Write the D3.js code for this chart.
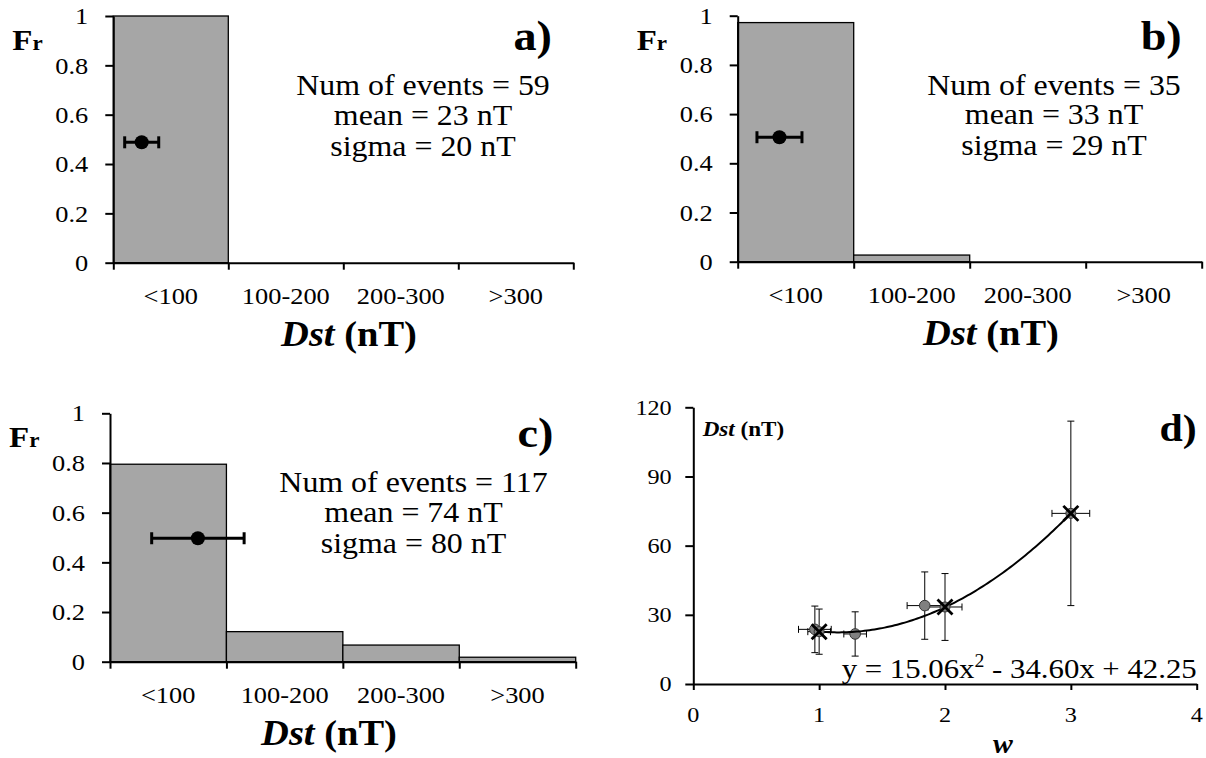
<!DOCTYPE html>
<html><head><meta charset="utf-8">
<script src="https://cdn.jsdelivr.net/npm/d3@7"></script>
<style>
body{margin:0;background:#fff}
svg{display:block}
text{font-family:"Liberation Serif","Times New Roman",serif;fill:#000}
</style>
</head><body>
<svg id="chart" width="1206" height="758"></svg>
<script>
// ---------------- DATA ----------------
const categories = ["<100", "100-200", "200-300", ">300"];
const binEdges = [0, 100, 200, 300, 400];
const frA = [1.0, 0, 0, 0];
const frB = [0.972, 0.027, 0, 0];
const frC = [0.795, 0.121, 0.067, 0.018];
const frTicks = [0, 0.2, 0.4, 0.6, 0.8, 1];
const frTickLabels = ["0", "0.2", "0.4", "0.6", "0.8", "1"];
const panelLetters = ["a)", "b)", "c)", "d)"];
const numEvents = [59, 35, 117];
const meanNT = [23, 33, 74];
const sigmaNT = [20, 29, 80];
const markDst = [24.7, 36, 75.5];
const markDstErr = [14.8, 19.4, 39.7];
const markFr = [0.488, 0.506, 0.497];

const crossW = [1, 2, 3];
const crossDst = [22.7, 33.4, 74.0];
const crossWErr = [0.09, 0.135, 0.15];
const crossDstErr = [9.8, 14.5, 40];
const circW = [0.966, 1.286, 1.839];
const circDst = [23.7, 21.7, 34.0];
const circWErr = [0.13, 0.09, 0.14];
const circDstErr = [10.1, 9.6, 14.6];
const fitCoef = [15.06, -34.60, 42.25];
const fitRange = [1, 3];
const wTicks = [0, 1, 2, 3, 4];
const wTickLabels = ["0", "1", "2", "3", "4"];
const dstTicks = [0, 30, 60, 90, 120];
const dstTickLabels = ["0", "30", "60", "90", "120"];

// ---------------- LAYOUT ----------------
const SX = 1.1; // horizontal text stretch of the original figure
const layouts = [
  {x0:113.3, x1:573.3, y0:262.7, y1:16,    textCx:423,   letterX:552,    titleCx:349},
  {x0:737.7, x1:1201.7,y0:261.7, y1:15.7,  textCx:1054,  letterX:1181.7, titleCx:991},
  {x0:110,   x1:575.7, y0:661.7, y1:413.3, textCx:413.5, letterX:553.3,  titleCx:329}
];
const D = {x0:693.3, x1:1196.7, y0:684, y1:407.3};

const svg = d3.select("#chart");

function txt(parent, x, y, anchor, size, weight, style) {
  return parent.append("text")
    .attr("transform", `translate(${x},${y}) scale(${SX},1)`)
    .attr("text-anchor", anchor)
    .style("font-family", '"Liberation Serif","Times New Roman",serif')
    .style("font-size", size + "px")
    .style("font-weight", weight || "normal")
    .style("font-style", style || "normal");
}

function styleAxis(a) {
  a.selectAll("path.domain").attr("stroke", "#000").attr("stroke-width", 2);
  a.selectAll(".tick line").attr("stroke", "#000").attr("stroke-width", 2);
  a.selectAll(".tick text").remove();
}

function drawHist(i, fr) {
  const L = layouts[i];
  const g = svg.append("g");
  const xb = d3.scaleBand().domain(categories).range([L.x0, L.x1]).padding(0);
  const xl = d3.scaleLinear().domain([binEdges[0], binEdges[binEdges.length-1]]).range([L.x0, L.x1]);
  const y = d3.scaleLinear().domain([0, 1]).range([L.y0, L.y1]);

  g.selectAll("rect.bar")
    .data(categories.map((c, k) => ({c, v: fr[k]})).filter(d => d.v > 0))
    .join("rect").attr("class", "bar")
    .attr("x", d => xb(d.c)).attr("width", xb.bandwidth())
    .attr("y", d => y(d.v)).attr("height", d => y(0) - y(d.v))
    .attr("fill", "#a6a6a6").attr("stroke", "#000").attr("stroke-width", 1.3);

  const ya = g.append("g").attr("transform", `translate(${L.x0},0)`)
    .call(d3.axisLeft(y).tickValues(frTicks).tickFormat("").tickSize(8).tickSizeOuter(0));
  styleAxis(ya);
  frTicks.forEach((t, k) => {
    txt(g, L.x0 - 25, y(t), "end", 24).attr("dy", "0.34em").text(frTickLabels[k]);
  });

  const xa = g.append("g").attr("transform", `translate(0,${L.y0})`)
    .call(d3.axisBottom(xl).tickValues(binEdges).tickFormat("").tickSize(7).tickSizeOuter(0));
  styleAxis(xa);
  categories.forEach(c => {
    txt(g, xb(c) + xb.bandwidth() / 2, L.y0 + 41, "middle", 24).text(c);
  });

  // mean marker with error bar
  const my = y(markFr[i]);
  const xa0 = xl(markDst[i] - markDstErr[i]), xa1 = xl(markDst[i] + markDstErr[i]);
  g.append("line").attr("x1", xa0).attr("x2", xa1).attr("y1", my).attr("y2", my)
    .attr("stroke", "#000").attr("stroke-width", 3);
  [xa0, xa1].forEach(xx => g.append("line").attr("x1", xx).attr("x2", xx)
    .attr("y1", my - 6).attr("y2", my + 6).attr("stroke", "#000").attr("stroke-width", 3));
  g.append("circle").attr("cx", xl(markDst[i])).attr("cy", my).attr("r", 7).attr("fill", "#000");

  // stats text
  txt(g, L.textCx, L.y1 + 79, "middle", 29).text(`Num of events = ${numEvents[i]}`);
  txt(g, L.textCx, L.y1 + 108.5, "middle", 29).text(`mean = ${meanNT[i]} nT`);
  txt(g, L.textCx, L.y1 + 139.5, "middle", 29).text(`sigma = ${sigmaNT[i]} nT`);

  // panel letter
  txt(g, L.letterX, L.y1 + 34, "end", 42, "bold").text(panelLetters[i]);

  // Fr label
  const fr_t = txt(g, L.x0 - 101, L.y1 + 34, "start", 30, "bold");
  fr_t.append("tspan").text("F");
  fr_t.append("tspan").style("font-size", "21px").text("r");

  // x title
  const tt = txt(g, L.titleCx, L.y0 + 83, "middle", 35, "bold");
  tt.append("tspan").style("font-style", "italic").text("Dst");
  tt.append("tspan").text(" (nT)");
}

drawHist(0, frA);
drawHist(1, frB);
drawHist(2, frC);

// ---------------- PANEL D ----------------
(function() {
  const g = svg.append("g");
  const xw = d3.scaleLinear().domain([wTicks[0], wTicks[wTicks.length-1]]).range([D.x0, D.x1]);
  const yd = d3.scaleLinear().domain([dstTicks[0], dstTicks[dstTicks.length-1]]).range([D.y0, D.y1]);

  const ya = g.append("g").attr("transform", `translate(${D.x0},0)`)
    .call(d3.axisLeft(yd).tickValues(dstTicks).tickFormat("").tickSize(8).tickSizeOuter(0));
  styleAxis(ya);
  dstTicks.forEach((t, k) => {
    txt(g, D.x0 - 21.6, yd(t), "end", 22).attr("dy", "0.34em").text(dstTickLabels[k]);
  });

  const xa = g.append("g").attr("transform", `translate(0,${D.y0})`)
    .call(d3.axisBottom(xw).tickValues(wTicks).tickFormat("").tickSize(6).tickSizeOuter(0));
  styleAxis(xa);
  wTicks.forEach((t, k) => {
    txt(g, xw(t), D.y0 + 37.7, "middle", 22).text(wTickLabels[k]);
  });

  // error bars
  function errBars(ws, ds, we, de) {
    ws.forEach((w, k) => {
      const cx = xw(w), cy = yd(ds[k]);
      const yt = yd(ds[k] + de[k]), yb = yd(ds[k] - de[k]);
      const xl = xw(w - we[k]), xr = xw(w + we[k]);
      const ln = (x1, y1, x2, y2) => g.append("line").attr("x1", x1).attr("y1", y1).attr("x2", x2).attr("y2", y2)
        .attr("stroke", "#000").attr("stroke-width", 1);
      ln(cx, yt, cx, yb);
      ln(cx - 3.5, yt, cx + 3.5, yt);
      ln(cx - 3.5, yb, cx + 3.5, yb);
      ln(xl, cy, xr, cy);
      ln(xl, cy - 3.5, xl, cy + 3.5);
      ln(xr, cy - 3.5, xr, cy + 3.5);
    });
  }
  errBars(circW, circDst, circWErr, circDstErr);
  errBars(crossW, crossDst, crossWErr, crossDstErr);

  // circles
  circW.forEach((w, k) => {
    g.append("circle").attr("cx", xw(w)).attr("cy", yd(circDst[k])).attr("r", 5.3)
      .attr("fill", "#808080").attr("stroke", "#333").attr("stroke-width", 1);
  });

  // fit curve
  const f = w => fitCoef[0] * w * w + fitCoef[1] * w + fitCoef[2];
  const samples = d3.range(fitRange[0], fitRange[1] + 1e-9, 0.02);
  g.append("path").datum(samples)
    .attr("d", d3.line().x(w => xw(w)).y(w => yd(f(w))).curve(d3.curveBasis))
    .attr("fill", "none").attr("stroke", "#000").attr("stroke-width", 2);

  // crosses
  crossW.forEach((w, k) => {
    const cx = xw(w), cy = yd(crossDst[k]);
    g.append("circle").attr("cx", cx).attr("cy", cy).attr("r", 5)
      .attr("fill", "#808080").attr("stroke", "#333").attr("stroke-width", 1);
    g.append("path").attr("d", `M${cx-7.5},${cy-7.5}L${cx+7.5},${cy+7.5}M${cx-7.5},${cy+7.5}L${cx+7.5},${cy-7.5}`)
      .attr("stroke", "#000").attr("stroke-width", 2.8);
  });

  // equation
  const eq = txt(g, D.x1, D.y0 - 6.3, "end", 28);
  eq.append("tspan").text(`y = ${fitCoef[0].toFixed(2)}x`);
  eq.append("tspan").attr("dy", -11).style("font-size", "18px").text("2");
  eq.append("tspan").attr("dy", 11).text(` - ${Math.abs(fitCoef[1]).toFixed(2)}x + ${fitCoef[2].toFixed(2)}`);

  // axis labels
  const yl = txt(g, 702.7, 435.7, "start", 21, "bold");
  yl.append("tspan").style("font-style", "italic").text("Dst");
  yl.append("tspan").text(" (nT)");
  txt(g, 1003, 753, "middle", 27, "bold", "italic").text("w");
  txt(g, D.x1, D.y1 + 34, "end", 38, "bold").text(panelLetters[3]);
})();
</script>
</body></html>
